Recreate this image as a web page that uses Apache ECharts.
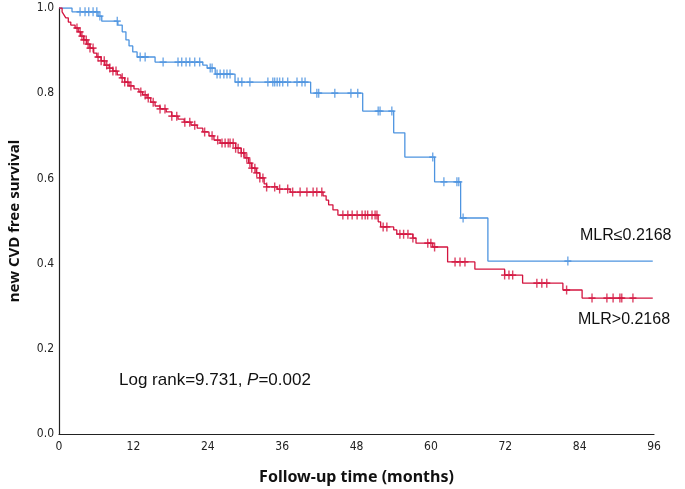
<!DOCTYPE html>
<html>
<head>
<meta charset="utf-8">
<script src="https://cdn.jsdelivr.net/npm/echarts@6/dist/echarts.min.js"></script>
<style>html,body{margin:0;padding:0;background:#fff}#c{width:685px;height:489px}</style>
</head>
<body>
<div id="c"></div>
<script>
// X axis ticks (months)
const xTicks = [0, 12, 24, 36, 48, 60, 72, 84, 96];
const yTicks = [0.0, 0.2, 0.4, 0.6, 0.8, 1.0];

// MLR<=0.2168 group: step times (months) and survival after each step
const lowTimes = [0, 2.1, 6.3, 6.9, 9.5, 10.2, 10.8, 11.3, 11.9, 12.6, 15.5, 23.2, 23.9, 25.2, 28.4, 40.6, 49.0, 54.0, 55.8, 60.6, 64.8, 69.2, 95.8];
const lowSurv  = [1.0, 0.991, 0.981, 0.969, 0.960, 0.944, 0.925, 0.911, 0.897, 0.885, 0.873, 0.866, 0.859, 0.845, 0.826, 0.800, 0.758, 0.707, 0.650, 0.592, 0.507, 0.406, 0.406];
const lowCensor = [3.4, 4.2, 4.8, 5.5, 6.1, 6.6, 9.4, 13.1, 13.9, 16.8, 19.2, 19.8, 20.5, 21.1, 21.9, 22.7, 24.4, 24.7, 25.5, 26.0, 26.6, 27.1, 27.6, 28.9, 29.5, 30.8, 33.7, 34.5, 34.8, 35.2, 35.6, 36.1, 36.9, 38.4, 39.2, 39.7, 41.6, 41.9, 44.5, 47.1, 48.2, 51.5, 51.8, 53.7, 60.3, 62.1, 64.2, 64.5, 65.2, 82.1];

// MLR>0.2168 group
const highTimes = [0, 0.5, 0.8, 1.1, 1.5, 1.9, 2.6, 3.1, 3.5, 4.0, 4.5, 5.0, 5.6, 6.1, 6.8, 7.4, 8.1, 8.7, 9.4, 10.0, 10.6, 11.3, 12.1, 12.9, 13.5, 14.2, 14.8, 15.5, 16.3, 17.3, 18.2, 19.2, 20.2, 21.3, 22.3, 23.2, 24.2, 25.0, 26.0, 28.5, 29.4, 30.0, 30.6, 31.1, 31.8, 32.4, 33.1, 33.5, 35.2, 37.3, 42.6, 43.1, 43.5, 44.2, 45.0, 51.5, 51.9, 54.0, 54.5, 57.1, 57.6, 60.3, 62.7, 67.1, 71.9, 74.8, 81.3, 84.4, 95.8];
const highSurv  = [1.0, 0.991, 0.984, 0.977, 0.967, 0.960, 0.953, 0.944, 0.934, 0.925, 0.915, 0.906, 0.894, 0.885, 0.876, 0.866, 0.859, 0.852, 0.843, 0.836, 0.826, 0.817, 0.810, 0.803, 0.796, 0.789, 0.779, 0.770, 0.763, 0.756, 0.746, 0.739, 0.732, 0.725, 0.718, 0.709, 0.700, 0.690, 0.683, 0.671, 0.660, 0.648, 0.636, 0.624, 0.613, 0.601, 0.587, 0.580, 0.575, 0.568, 0.559, 0.549, 0.538, 0.526, 0.514, 0.498, 0.486, 0.479, 0.469, 0.460, 0.448, 0.439, 0.404, 0.387, 0.373, 0.354, 0.338, 0.319, 0.319];
const highCensor = [2.9, 3.4, 3.7, 4.0, 4.4, 4.7, 5.0, 5.5, 6.3, 6.8, 7.3, 7.7, 8.2, 8.7, 9.2, 10.2, 10.6, 11.1, 11.6, 13.2, 13.9, 14.4, 15.2, 16.3, 17.1, 18.2, 19.0, 20.3, 21.1, 21.9, 23.5, 24.7, 25.6, 26.3, 26.8, 27.3, 27.6, 28.1, 28.5, 28.9, 29.4, 29.8, 30.3, 30.8, 31.1, 31.6, 31.9, 32.4, 32.9, 33.5, 34.8, 35.6, 36.9, 37.7, 38.9, 40.0, 41.0, 41.6, 42.4, 45.8, 46.6, 47.3, 48.1, 48.9, 49.4, 49.8, 50.5, 51.0, 51.3, 52.3, 52.9, 55.0, 55.6, 56.3, 57.1, 59.5, 60.0, 60.6, 63.9, 64.7, 65.5, 71.9, 72.6, 73.2, 77.1, 77.9, 78.7, 81.9, 86.0, 88.4, 89.4, 90.5, 90.8, 92.6];

const groupLabels = ['MLR≤0.2168', 'MLR>0.2168'];
const statText = ['Log rank=9.731, ', 'P', '=0.002'];

const BLUE = '#4d94e0';
const RED = '#d3143f';

function survAt(times, surv, t) {
  let s = surv[0];
  for (let i = 0; i < times.length; i++) { if (times[i] <= t) s = surv[i]; }
  return s;
}
const lineData = (times, surv) => times.map((t, i) => [t, surv[i]]);
const censorData = (times, surv, cs) => cs.map(t => [t, survAt(times, surv, t)]);

const plus = 'path://M3.6,0h1.8v3.6h3.6v1.8h-3.6v3.6h-1.8v-3.6h-3.6v-1.8h3.6z';

const chart = echarts.init(document.getElementById('c'), null, {renderer: 'canvas'});
chart.setOption({
  animation: false,
  backgroundColor: '#fff',
  grid: {left: 59, right: 31, top: 8, bottom: 55, containLabel: false, outerBoundsMode: 'none'},
  xAxis: {
    type: 'value', min: xTicks[0], max: xTicks[xTicks.length - 1], interval: 12,
    name: 'Follow-up time (months)', nameLocation: 'middle', nameGap: 35,
    nameTextStyle: {fontFamily: 'Noto Sans', fontWeight: 'bold', fontSize: 16, color: '#111'},
    axisLine: {lineStyle: {color: '#222', width: 1.2}},
    axisTick: {show: false}, splitLine: {show: false},
    axisLabel: {margin: 7, fontFamily: "'DejaVu Sans Condensed','Liberation Sans Narrow','DejaVu Sans'", fontSize: 12, color: '#222'}
  },
  yAxis: {
    type: 'value', min: yTicks[0], max: yTicks[yTicks.length - 1], interval: 0.2,
    name: 'new CVD free survival', nameLocation: 'middle', nameGap: 37, nameRotate: 90,
    nameTextStyle: {fontFamily: 'Noto Sans', fontWeight: 'bold', fontSize: 15, color: '#111'},
    axisLine: {show: true, lineStyle: {color: '#222', width: 1.2}},
    axisTick: {show: false}, splitLine: {show: false},
    axisLabel: {margin: 5, formatter: v => v.toFixed(1), fontFamily: "'DejaVu Sans Condensed','Liberation Sans Narrow','DejaVu Sans'", fontSize: 12, color: '#222'}
  },
  series: [
    {type: 'line', step: 'end', data: lineData(lowTimes, lowSurv), showSymbol: false, lineStyle: {color: BLUE, width: 1.3}, z: 3},
    {type: 'line', step: 'end', data: lineData(highTimes, highSurv), showSymbol: false, lineStyle: {color: RED, width: 1.3}, z: 4},
    {type: 'scatter', data: censorData(lowTimes, lowSurv, lowCensor), symbol: plus, symbolSize: [7, 9], itemStyle: {color: BLUE}, z: 5},
    {type: 'scatter', data: censorData(highTimes, highSurv, highCensor), symbol: plus, symbolSize: [7, 9], itemStyle: {color: RED}, z: 6}
  ],
  graphic: [
    {type: 'text', left: 580, top: 228, style: {text: groupLabels[0], font: '16px "Liberation Sans", Arial', fill: '#111'}},
    {type: 'text', left: 578, top: 312, style: {text: groupLabels[1], font: '16px "Liberation Sans", Arial', fill: '#111'}},
    {type: 'text', left: 119, top: 372, style: {
      text: '{a|' + statText[0] + '}{b|' + statText[1] + '}{a|' + statText[2] + '}',
      rich: {
        a: {fontFamily: 'Liberation Sans', fontSize: 17, fill: '#111', color: '#111'},
        b: {fontFamily: 'Liberation Sans', fontSize: 17, fontStyle: 'italic', fill: '#111', color: '#111'}
      }
    }}
  ]
});
</script>
</body>
</html>
